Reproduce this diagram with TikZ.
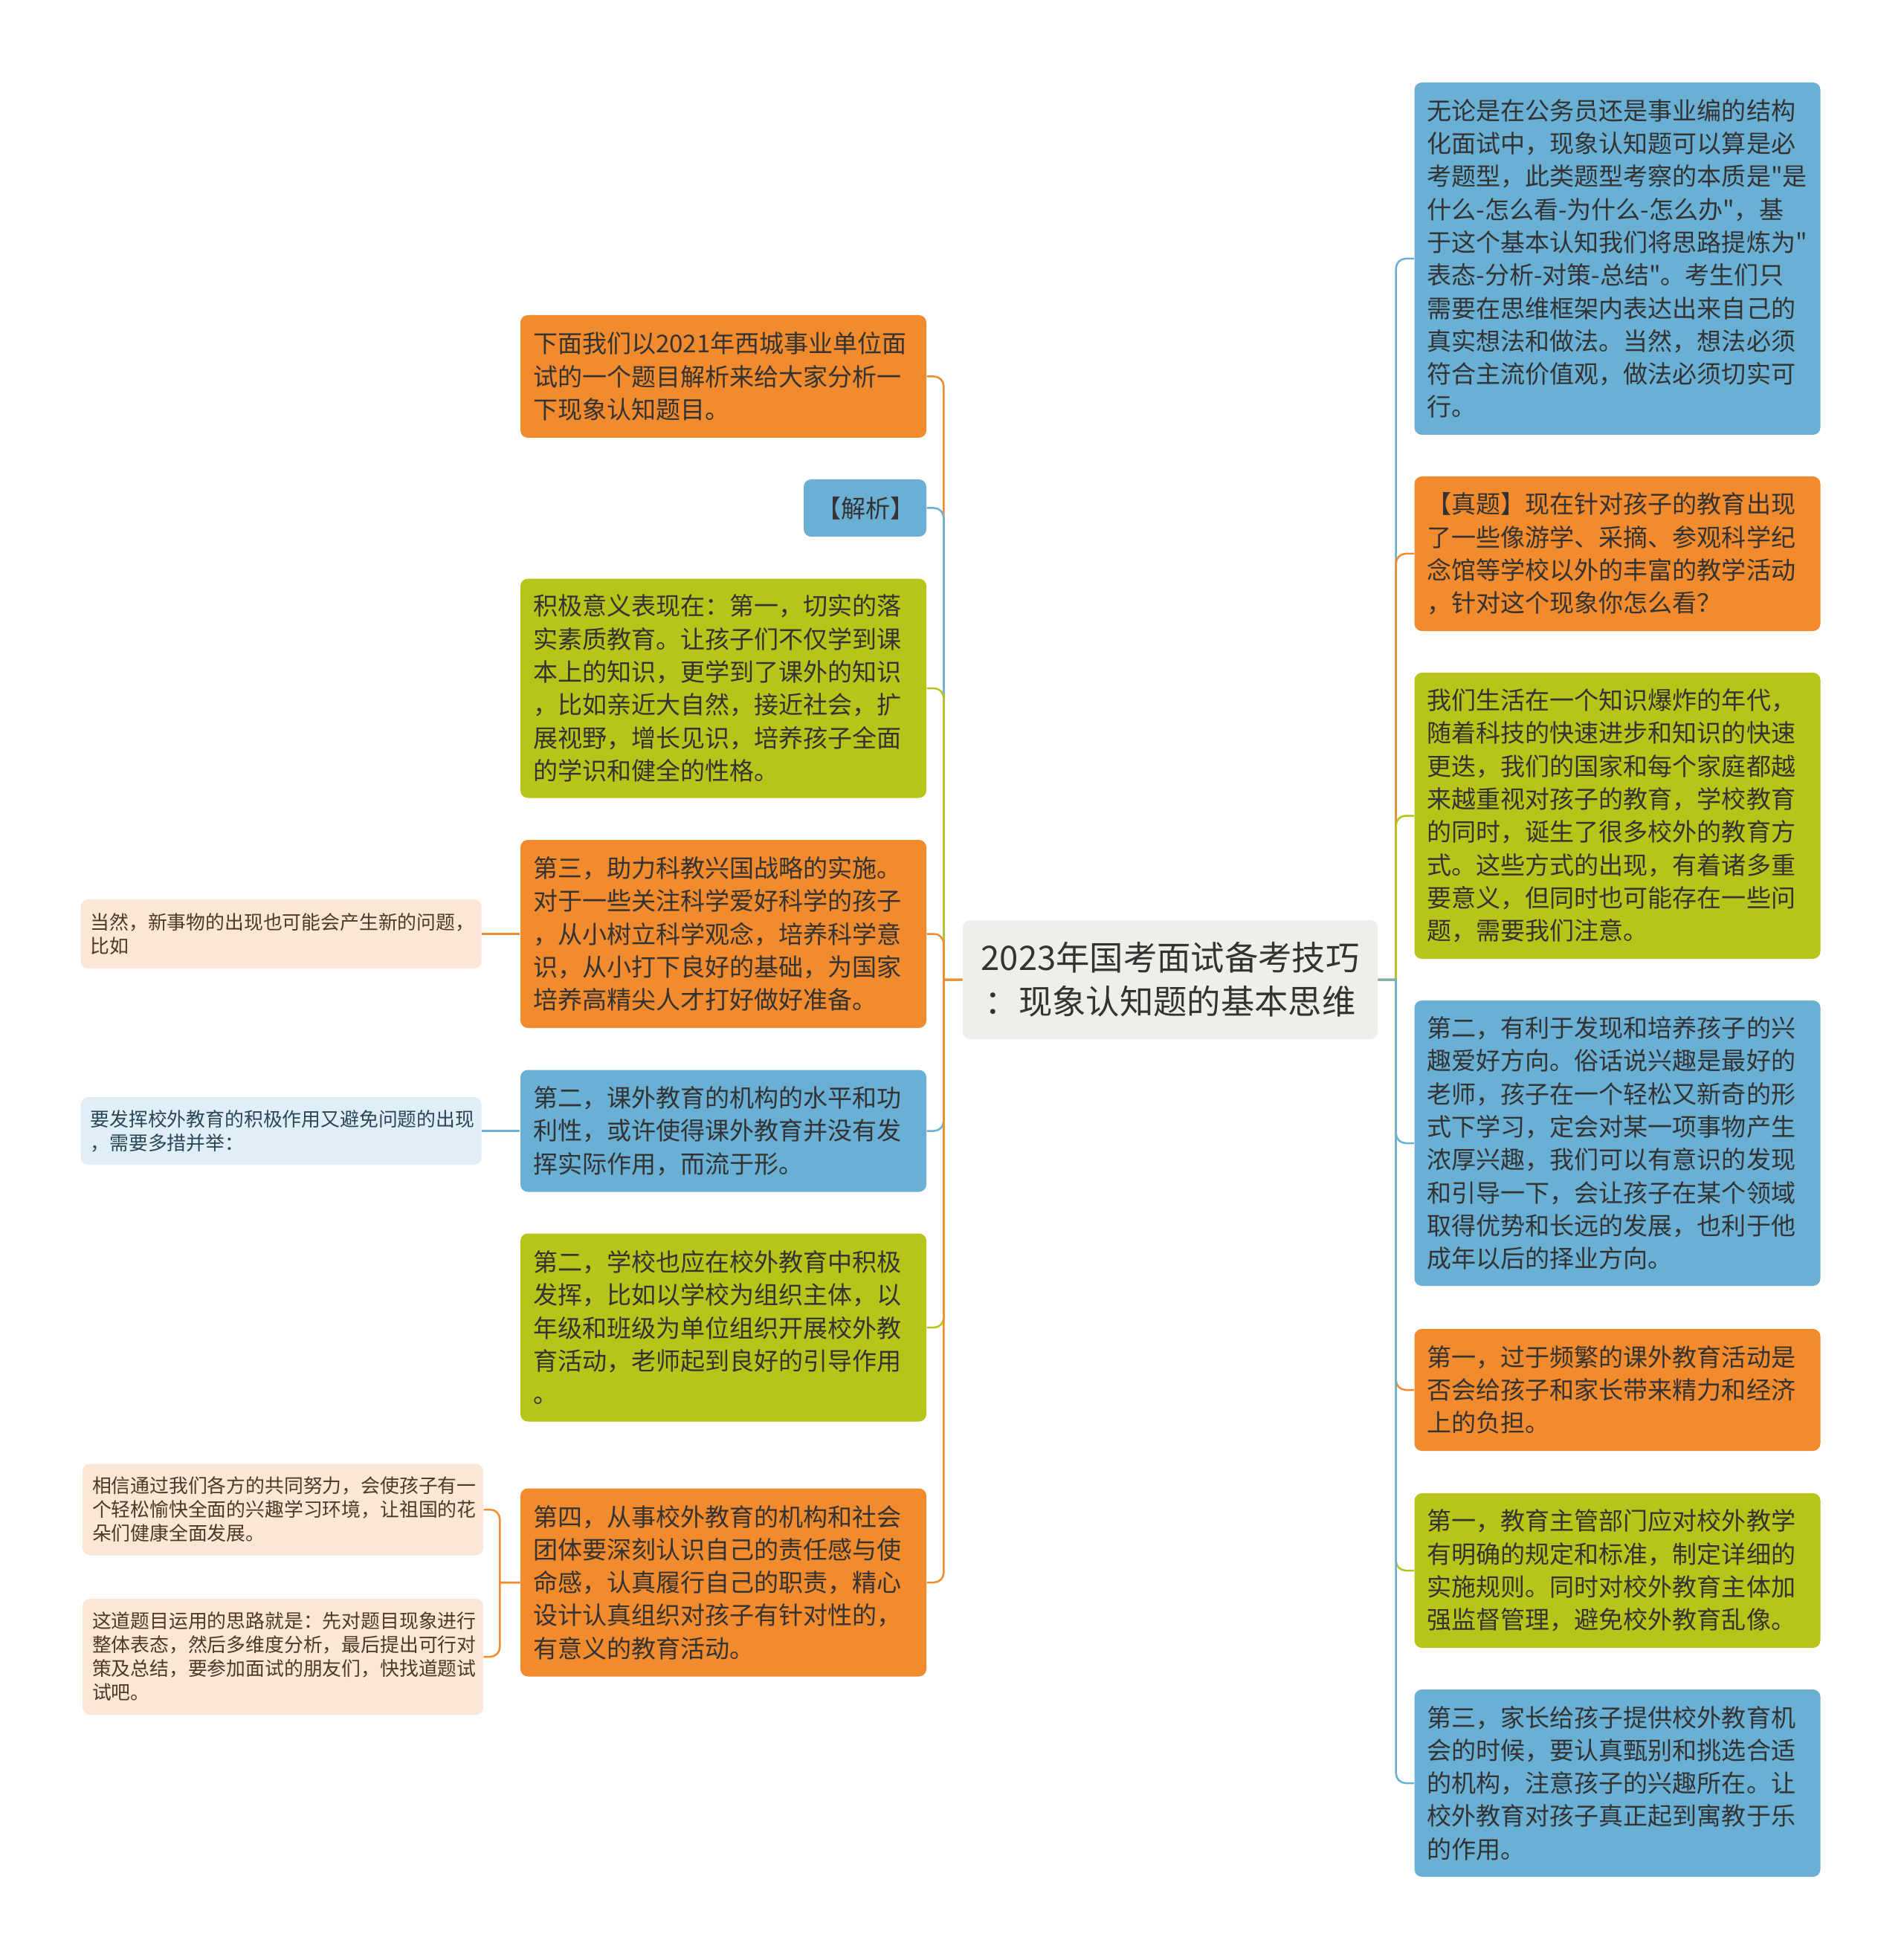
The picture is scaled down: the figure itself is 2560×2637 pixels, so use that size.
\documentclass[tikz,border=0pt]{standalone}
\usepackage{fontspec}
\setmainfont{Noto Sans CJK SC}[Ligatures=TeXOff]
\usetikzlibrary{positioning}
\definecolor{org}{HTML}{F28A2E}
\definecolor{blu}{HTML}{6AAFD4}
\definecolor{grn}{HTML}{B9C41A}
\definecolor{ctr}{HTML}{EFEFE9}
\definecolor{lorg}{HTML}{FCE6D7}
\definecolor{lblu}{HTML}{E0EFF7}
\definecolor{txt}{HTML}{333333}
\definecolor{otxt}{HTML}{4E3829}
\definecolor{btxt}{HTML}{2B4657}

\tikzset{
  topic/.style={rounded corners=1mm, text=txt, align=left, inner xsep=1.7mm, inner ysep=0pt,
    text width=51.2mm, minimum width=54.6mm, font=\fontsize{9.4pt}{12.6pt}\selectfont},
  leaf/.style={rounded corners=1mm, align=left, inner xsep=1.3mm, inner ysep=0pt,
    text width=51.3mm, minimum width=53.9mm, font=\fontsize{7.35pt}{9.1pt}\selectfont},
  root/.style={rounded corners=1mm, fill=ctr, text=txt, align=center, minimum width=55.8mm,
    minimum height=16mm, font=\fontsize{12.9pt}{16.8pt}\selectfont},
  link/.style={line width=0.25mm}
}

\begin{document}
\begin{tikzpicture}[x=0.1mm, y=-0.1mm]
\fill[white] (0,0) rectangle (2560,2637);

\node[root] (root) at (1574,1318) {2023年国考面试备考技巧\\：现象认知题的基本思维};

%% right side
\node[topic, fill=blu, minimum height=47.4mm] (r1) at (2175.5,348) {无论是在公务员还是事业编的结构\\化面试中，现象认知题可以算是必\\考题型，此类题型考察的本质是"是\\什么-怎么看-为什么-怎么办"，基\\于这个基本认知我们将思路提炼为"\\表态-分析-对策-总结"。考生们只\\需要在思维框架内表达出来自己的\\真实想法和做法。当然，想法必须\\符合主流价值观，做法必须切实可\\行。};
\node[topic, fill=org, minimum height=20.8mm] (r2) at (2175.5,745) {【真题】现在针对孩子的教育出现\\了一些像游学、采摘、参观科学纪\\念馆等学校以外的丰富的教学活动\\，针对这个现象你怎么看？};
\node[topic, fill=grn, minimum height=38.5mm] (r3) at (2175.5,1097.5) {我们生活在一个知识爆炸的年代，\\随着科技的快速进步和知识的快速\\更迭，我们的国家和每个家庭都越\\来越重视对孩子的教育，学校教育\\的同时，诞生了很多校外的教育方\\式。这些方式的出现，有着诸多重\\要意义，但同时也可能存在一些问\\题，需要我们注意。};
\node[topic, fill=blu, minimum height=38.4mm] (r4) at (2175.5,1538) {第二，有利于发现和培养孩子的兴\\趣爱好方向。俗话说兴趣是最好的\\老师，孩子在一个轻松又新奇的形\\式下学习，定会对某一项事物产生\\浓厚兴趣，我们可以有意识的发现\\和引导一下，会让孩子在某个领域\\取得优势和长远的发展，也利于他\\成年以后的择业方向。};
\node[topic, fill=org, minimum height=16.4mm] (r5) at (2175.5,1870) {第一，过于频繁的课外教育活动是\\否会给孩子和家长带来精力和经济\\上的负担。};
\node[topic, fill=grn, minimum height=20.8mm] (r6) at (2175.5,2113) {第一，教育主管部门应对校外教学\\有明确的规定和标准，制定详细的\\实施规则。同时对校外教育主体加\\强监督管理，避免校外教育乱像。};
\node[topic, fill=blu, minimum height=25.2mm] (r7) at (2175.5,2399) {第三，家长给孩子提供校外教育机\\会的时候，要认真甄别和挑选合适\\的机构，注意孩子的兴趣所在。让\\校外教育对孩子真正起到寓教于乐\\的作用。};

%% left side
\node[topic, fill=org, minimum height=16.5mm] (l1) at (973,506.5) {下面我们以2021年西城事业单位面\\试的一个题目解析来给大家分析一\\下现象认知题目。};
\node[topic, fill=blu, text width=13.1mm, minimum width=16.5mm, minimum height=7.7mm, align=center] (l2) at (1163.5,683.5) {【解析】};
\node[topic, fill=grn, minimum height=29.5mm] (l3) at (973,926) {积极意义表现在：第一，切实的落\\实素质教育。让孩子们不仅学到课\\本上的知识，更学到了课外的知识\\，比如亲近大自然，接近社会，扩\\展视野，增长见识，培养孩子全面\\的学识和健全的性格。};
\node[topic, fill=org, minimum height=25.3mm] (l4) at (973,1256.5) {第三，助力科教兴国战略的实施。\\对于一些关注科学爱好科学的孩子\\，从小树立科学观念，培养科学意\\识，从小打下良好的基础，为国家\\培养高精尖人才打好做好准备。};
\node[topic, fill=blu, minimum height=16.4mm] (l5) at (973,1521.5) {第二，课外教育的机构的水平和功\\利性，或许使得课外教育并没有发\\挥实际作用，而流于形。};
\node[topic, fill=grn, minimum height=25.3mm] (l6) at (973,1786) {第二，学校也应在校外教育中积极\\发挥，比如以学校为组织主体，以\\年级和班级为单位组织开展校外教\\育活动，老师起到良好的引导作用\\。};
\node[topic, fill=org, minimum height=25.3mm] (l7) at (973,2129) {第四，从事校外教育的机构和社会\\团体要深刻认识自己的责任感与使\\命感，认真履行自己的职责，精心\\设计认真组织对孩子有针对性的，\\有意义的教育活动。};

%% far left
\node[leaf, fill=lorg, text=otxt, minimum height=9.3mm, left=5.1mm of l4] (fa) {当然，新事物的出现也可能会产生新的问题，\\比如};
\node[leaf, fill=lblu, text=btxt, minimum height=9.1mm, left=5.1mm of l5] (fb) {要发挥校外教育的积极作用又避免问题的出现\\，需要多措并举：};
\node[leaf, fill=lorg, text=otxt, minimum height=12.3mm] (fc) at (380.5,2031) {相信通过我们各方的共同努力，会使孩子有一\\个轻松愉快全面的兴趣学习环境，让祖国的花\\朵们健康全面发展。};
\node[leaf, fill=lorg, text=otxt, minimum height=15.6mm] (fd) at (380.5,2229) {这道题目运用的思路就是：先对题目现象进行\\整体表态，然后多维度分析，最后提出可行对\\策及总结，要参加面试的朋友们，快找道题试\\试吧。};

\foreach \n/\c in {l1/org,l2/blu,l3/grn,l4/org,l5/blu,l6/grn,l7/org}
  \draw[link,\c] (root.west) -- ++(-25,0) [rounded corners=1.3mm] |- (\n.east);
\foreach \n/\c in {r1/blu,r2/org,r3/grn,r4/blu,r5/org,r6/grn,r7/blu}
  \draw[link,\c] (root.east) -- ++(24,0) [rounded corners=1.3mm] |- (\n.west);

\draw[link,org] (l4.west) -- (fa.east);
\draw[link,blu] (l5.west) -- (fb.east);
\foreach \n in {fc,fd}
  \draw[link,org] (l7.west) -- ++(-27,0) [rounded corners=1.3mm] |- (\n.east);
\end{tikzpicture}
\end{document}
